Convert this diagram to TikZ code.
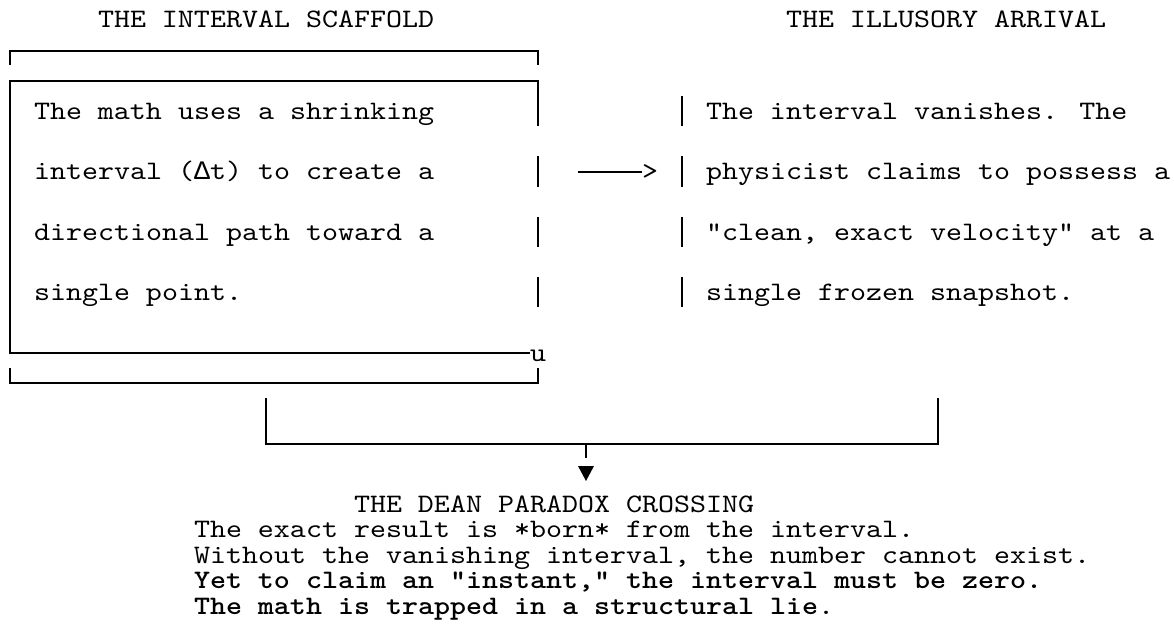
\documentclass[tikz,border=0pt]{standalone}
\usepackage{fontspec}
\newfontfamily\cour{lmmono10-regular}[Extension=.otf, BoldFont=lmmonolt10-bold, FakeStretch=1.143]
\newfontfamily\deltafont{Liberation Mono}
\tikzset{
  txt/.style={font=\cour\fontsize{26.67}{30}\selectfont, anchor=base west, inner sep=0pt, outer sep=0pt},
  rule/.style={line width=2pt, line cap=butt, line join=miter},
}
\begin{document}
\begin{tikzpicture}[x=1pt,y=-1pt]
\useasboundingbox (0,0) rectangle (1174,637);
% titles
\node[txt] (tl) at (98,27.5) {THE INTERVAL SCAFFOLD};
\node[txt] (tr) at (786,27.5) {THE ILLUSORY ARRIVAL};
% left box text
\node[txt] (l1) at (34,119) {The math uses a shrinking};
\node[txt] (l2) at (34,179.5) {interval ({\deltafont Δ}t) to create a};
\node[txt] (l3) at (34,240) {directional path toward a};
\node[txt] (l4) at (34,300.5) {single point.};
% right text
\node[txt] (r1) at (706,119) {The interval vanishes. The};
\node[txt] (r2) at (706,179.5) {physicist claims to possess a};
\node[txt] (r3) at (706,240) {"clean, exact velocity" at a};
\node[txt] (r4) at (706,300.5) {single frozen snapshot.};
% box frame
\draw[rule] (10,65) |- (538,50.5) -- (538,65);
\draw[rule] (530,353) -| (10,81) -- (538,81) -- (538,126);
\draw[rule] (538,156) -- (538,186.5);
\draw[rule] (538,216.5) -- (538,247);
\draw[rule] (538,277) -- (538,307);
\node[txt] (u) at (530,361) {u};
\draw[rule] (10,368) |- (538,383) -- (538,368);
% right bars
\draw[rule] (682,95.5) -- (682,126);
\draw[rule] (682,156) -- (682,186.5);
\draw[rule] (682,216.5) -- (682,247);
\draw[rule] (682,277) -- (682,307);
% arrow
\coordinate (a0) at (578,171.5);
\coordinate (a1) at (642,171.5);
\draw[rule] (a0) -- (a1);
\node[txt] (ah) at (642,179.5) {>};
% merge connector
\coordinate (cl) at (266,398);
\coordinate (cr) at (938,398);
\coordinate (cm) at (586,443.5);
\draw[rule] (cl) |- (cm) -| (cr);
\draw[rule] (cm) -- (586,458);
\fill (578,466) -- (594,466) -- (586,481) -- cycle;
% bottom text
\node[txt] (d0) at (354,512) {THE DEAN PARADOX CROSSING};
\node[txt] (d1) at (194,537.5) {The exact result is *born* from the interval.};
\node[txt] (d2) at (194,563) {Without the vanishing interval, the number cannot exist.};
\node[txt] (d3) at (194,588.5) {\bfseries Yet to claim an "instant," the interval must be zero.};
\node[txt] (d4) at (194,614) {{\bfseries The math is trapped in a structural lie}.};
\end{tikzpicture}
\end{document}
